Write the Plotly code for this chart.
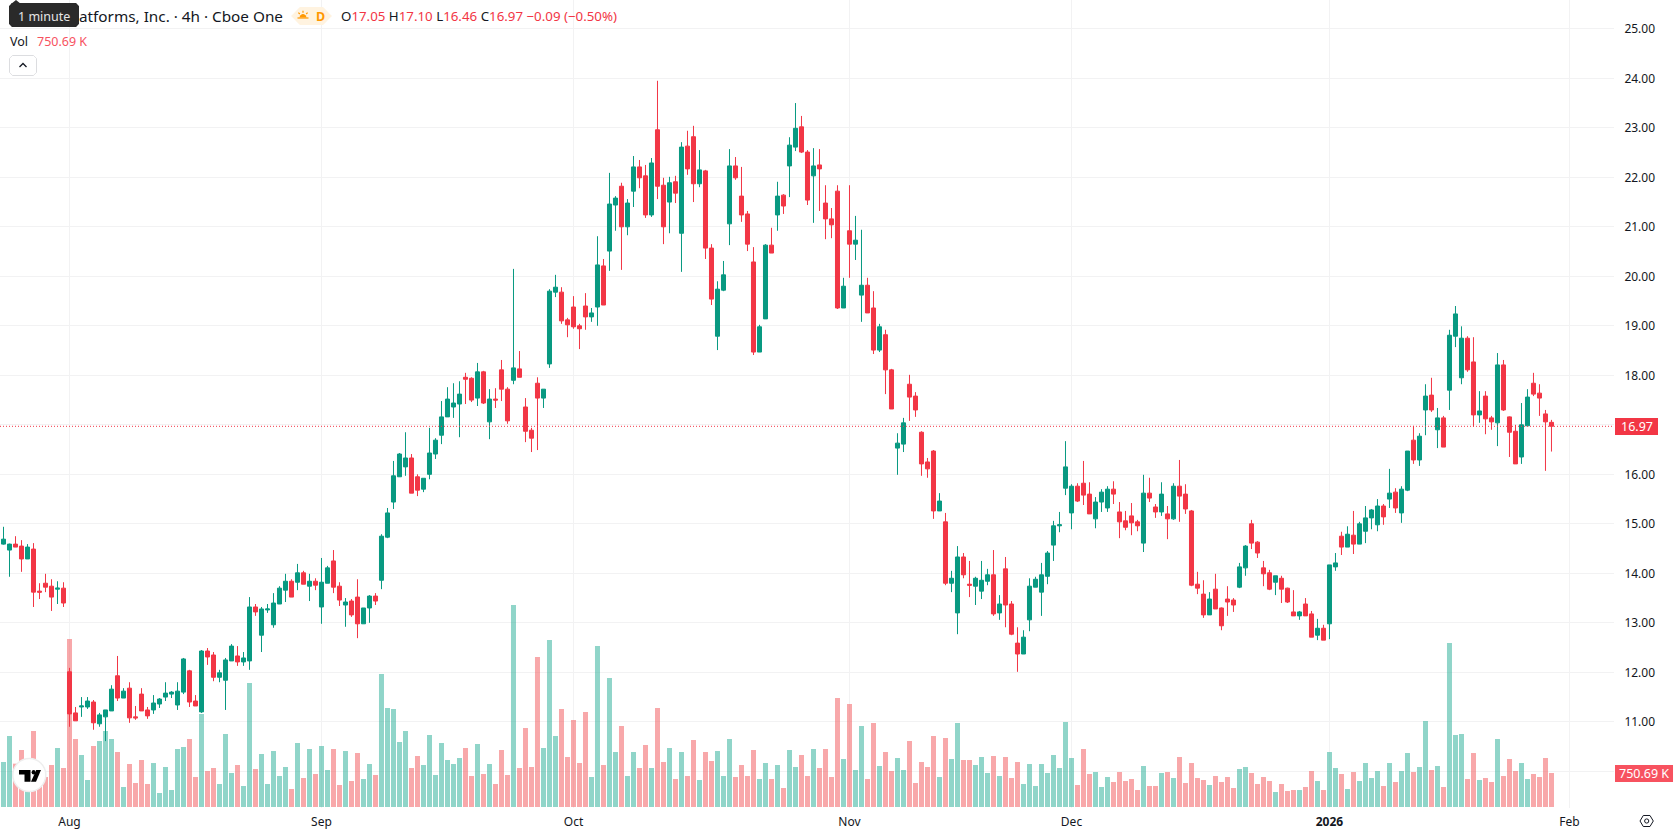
import plotly.graph_objects as go

# Price data, 4h bars
opens = [
    14.59,14.47,14.59,14.55,14.29,14.49,13.64,13.80,13.74,13.68,
    13.70,12.01,11.18,11.30,11.30,11.40,10.96,11.10,11.22,11.93,
    11.48,11.68,11.10,11.56,11.24,11.24,11.36,11.50,11.56,11.34,
    11.60,12.03,11.42,11.20,12.43,12.35,11.90,11.84,12.23,12.33,
    12.21,12.23,13.32,12.75,13.26,12.96,13.38,13.66,13.84,13.82,
    14.01,13.74,13.84,13.32,13.80,14.25,13.74,13.36,13.44,13.52,
    12.98,13.30,13.54,13.86,14.73,15.44,15.95,16.15,16.33,15.95,
    15.70,16.00,16.41,16.79,17.16,17.36,17.42,17.96,17.94,17.54,
    18.07,17.06,17.52,18.11,17.72,17.90,18.13,17.36,16.89,17.84,
    17.54,18.23,19.68,19.68,19.12,19.38,19.00,19.40,19.18,19.38,
    20.21,20.51,21.44,21.82,21.00,21.72,22.21,22.03,21.24,22.96,
    21.84,21.50,21.91,20.87,22.63,22.82,21.87,22.13,20.57,18.79,
    19.72,21.06,22.23,21.62,21.26,20.29,18.47,19.14,20.63,21.24,
    21.64,22.23,22.61,23.02,22.51,22.03,22.25,21.48,21.16,21.72,
    19.36,20.92,20.65,19.62,19.82,19.36,18.51,18.82,18.11,16.53,
    16.61,17.82,17.58,16.85,16.25,16.47,15.26,15.04,13.80,13.20,
    14.33,13.78,13.74,13.64,13.84,13.97,13.20,14.09,13.38,12.59,
    12.37,13.06,13.72,13.62,13.94,14.57,14.96,15.72,15.22,15.76,
    15.82,15.60,15.10,15.44,15.32,15.70,15.24,15.06,15.16,15.04,
    14.61,15.62,15.34,15.24,15.20,15.10,15.76,15.60,15.26,13.78,
    13.58,13.16,13.68,13.30,13.48,13.46,13.72,14.11,15.00,14.63,
    14.11,14.01,13.82,13.90,13.70,13.22,13.14,13.38,13.18,12.75,
    12.89,12.98,14.13,14.75,14.53,14.77,14.59,14.85,15.12,14.98,
    15.36,15.50,15.64,15.22,15.68,16.69,16.29,17.30,17.60,16.90,
    17.14,17.70,18.79,17.95,18.75,18.27,17.20,17.58,17.14,17.04,
    18.21,17.16,16.87,16.35,16.98,17.84,17.64,17.22,17.05,
]
highs = [
    14.94,14.60,14.75,14.67,14.59,14.61,13.80,13.99,13.88,13.84,
    13.82,12.09,11.30,11.50,11.50,11.44,11.18,11.24,11.74,12.33,
    11.68,11.80,11.32,11.68,11.30,11.54,11.48,11.80,11.62,11.80,
    12.29,12.05,11.54,12.45,12.49,12.41,12.05,12.29,12.57,12.53,
    12.41,13.52,13.38,13.32,13.38,13.60,13.74,13.99,13.88,14.19,
    14.05,13.99,13.90,14.31,14.15,14.47,13.82,13.50,13.48,13.88,
    13.30,13.56,13.60,14.79,15.32,16.27,16.43,16.85,16.41,16.00,
    15.92,16.94,16.73,17.48,17.76,17.84,17.88,18.05,17.96,18.25,
    18.09,17.72,17.74,18.31,17.76,20.15,18.49,17.54,16.94,17.96,
    17.72,19.74,20.03,19.78,19.16,19.60,19.04,19.66,19.36,20.81,
    20.35,22.09,21.62,21.89,21.56,22.43,22.35,22.25,22.39,23.95,
    21.99,22.01,22.03,22.71,22.94,23.04,22.55,22.15,20.65,19.90,
    20.31,22.57,22.41,22.21,21.32,20.59,19.02,20.65,20.98,21.91,
    21.66,22.81,23.50,23.24,22.55,22.59,22.57,21.84,21.38,21.84,
    19.97,21.84,21.22,20.94,19.97,19.70,19.04,18.92,18.13,16.83,
    17.14,18.01,17.66,16.87,16.33,16.49,15.62,15.22,14.05,14.55,
    14.41,14.25,13.93,14.25,14.09,14.47,13.56,14.33,13.44,12.91,
    12.85,13.90,13.93,14.21,14.45,15.06,15.24,16.67,15.80,15.82,
    16.27,15.84,15.54,15.70,15.76,15.86,15.44,15.26,15.42,15.08,
    15.99,15.93,15.40,15.84,15.36,15.82,16.29,15.80,15.28,14.03,
    13.86,13.62,13.99,13.31,13.74,13.50,14.21,14.57,15.08,14.65,
    14.25,14.07,13.95,13.95,13.71,13.66,13.24,13.50,13.24,13.08,
    12.96,14.17,14.41,14.84,14.95,15.26,15.04,15.36,15.30,15.50,
    15.40,16.11,15.72,15.76,16.47,16.98,16.83,17.82,17.95,17.34,
    17.18,18.92,19.40,18.99,18.79,18.77,17.68,17.68,17.18,18.45,
    18.31,17.17,17.00,17.44,17.72,18.05,17.82,17.30,17.10,
]
lows = [
    14.58,13.93,14.53,14.03,14.29,13.32,13.48,13.62,13.24,13.38,
    13.32,10.90,11.02,11.10,11.26,10.84,10.90,10.61,11.22,11.42,
    11.48,10.98,11.04,11.22,11.06,11.16,11.28,11.42,11.48,11.24,
    11.56,11.30,11.32,11.18,12.15,11.82,11.80,11.24,12.23,12.13,
    12.13,12.05,13.14,12.41,13.20,12.90,13.38,13.42,13.52,13.66,
    13.78,13.44,13.66,12.98,13.80,13.60,13.34,12.92,13.12,12.69,
    12.98,13.00,13.36,13.68,14.71,15.30,15.95,15.97,15.62,15.56,
    15.64,15.90,16.31,16.61,17.16,17.14,16.75,17.42,17.46,17.38,
    17.42,16.71,17.34,17.48,17.02,17.82,17.96,16.65,16.45,16.49,
    17.34,18.15,19.58,19.04,18.77,18.94,18.53,18.92,19.08,19.00,
    19.42,20.11,20.92,20.13,20.83,21.40,21.78,21.18,21.20,21.56,
    20.65,20.87,21.48,20.09,22.05,21.50,21.80,20.35,19.42,18.51,
    19.70,20.63,21.95,21.10,20.51,18.41,18.47,19.14,20.47,20.92,
    21.26,21.60,22.53,22.49,21.44,21.08,21.32,20.75,20.77,19.34,
    19.36,19.97,20.33,19.08,19.26,18.43,18.47,17.62,17.32,15.99,
    16.45,17.08,17.16,15.97,15.93,15.10,15.26,13.76,13.62,12.77,
    13.90,13.52,13.36,13.48,13.76,13.14,13.06,12.91,12.75,12.01,
    12.37,12.83,13.72,13.14,13.78,14.25,14.83,15.58,14.89,15.44,
    15.38,15.20,14.91,15.24,15.24,15.40,14.71,14.87,14.77,14.85,
    14.43,15.44,15.12,15.16,14.69,15.08,15.04,15.20,13.74,13.58,
    13.10,13.16,13.28,12.85,13.14,13.22,13.70,13.95,14.49,14.31,
    13.74,13.66,13.56,13.40,13.40,13.14,13.06,13.14,12.71,12.65,
    12.65,12.67,14.05,14.37,14.53,14.39,14.59,14.61,14.89,14.85,
    14.98,15.32,15.22,15.02,15.66,16.21,16.17,16.79,17.26,16.53,
    16.55,17.30,18.57,17.82,18.07,16.96,17.04,16.81,16.90,16.57,
    17.28,16.35,16.21,16.21,16.98,17.58,17.18,16.07,16.46,
]
closes = [
    14.69,14.59,14.53,14.29,14.53,13.62,13.62,13.72,13.52,13.70,
    13.40,11.16,11.02,11.32,11.42,10.98,11.14,11.24,11.66,11.48,
    11.62,11.08,11.08,11.22,11.12,11.38,11.46,11.58,11.60,11.62,
    12.27,11.40,11.32,12.43,12.31,11.90,11.99,12.25,12.53,12.21,
    12.29,13.32,13.22,13.28,13.28,13.40,13.70,13.84,13.52,14.01,
    13.78,13.84,13.76,13.82,14.11,13.72,13.46,13.42,13.16,12.98,
    13.30,13.54,13.44,14.75,15.22,15.97,16.41,16.33,15.62,15.68,
    15.92,16.43,16.69,17.16,17.52,17.44,17.62,17.92,17.50,18.07,
    17.44,17.52,17.50,17.72,17.08,18.15,17.96,16.87,16.73,17.54,
    17.72,19.70,19.78,19.10,19.02,18.98,18.94,19.18,19.26,20.23,
    19.42,21.46,21.58,21.00,21.48,22.21,21.99,21.24,22.29,21.82,
    21.00,21.89,21.68,22.61,22.17,21.87,22.15,20.57,19.54,19.74,
    20.03,22.23,21.99,21.24,20.65,18.47,18.98,20.63,20.47,21.62,
    21.42,22.65,22.99,22.51,21.54,22.23,22.17,21.16,21.04,19.36,
    19.80,20.65,20.73,19.82,19.26,18.51,18.98,18.11,17.32,16.63,
    17.04,17.56,17.30,16.21,16.11,15.26,15.46,13.80,13.90,14.33,
    13.97,13.76,13.90,13.86,13.97,13.18,13.38,13.36,12.77,12.37,
    12.71,13.74,13.88,13.97,14.41,14.96,14.98,16.15,15.76,15.46,
    15.58,15.20,15.44,15.64,15.70,15.60,15.04,14.93,15.02,14.96,
    15.62,15.52,15.24,15.60,15.10,15.76,15.56,15.30,13.76,13.70,
    13.16,13.48,13.28,12.94,13.42,13.36,14.13,14.55,14.61,14.41,
    13.99,13.68,13.95,13.68,13.42,13.14,13.22,13.14,12.71,12.89,
    12.65,14.17,14.21,14.53,14.79,14.59,15.00,15.12,15.28,15.36,
    15.14,15.62,15.32,15.70,16.47,16.29,16.77,17.58,17.30,17.14,
    16.55,18.81,19.24,18.75,18.11,17.20,17.28,17.12,17.06,18.21,
    17.30,16.85,16.21,17.00,17.56,17.62,17.54,17.06,16.97,
]
# Volume per bar, in thousands of shares
volumes_k = [
    994,1568,957,1259,589,1678,699,662,927,1303,
    861,3709,1501,1148,596,1347,1457,1678,1501,1214,
    442,949,530,1038,508,971,309,883,375,1281,
    1325,1501,662,2053,795,861,508,1612,751,927,
    464,2738,839,1170,508,1236,684,883,397,1413,
    640,1281,729,1347,817,1281,486,1236,574,1192,
    618,949,707,2937,2186,2164,1435,1678,861,1126,
    927,1590,707,1413,1038,949,1082,1303,684,1391,
    729,949,508,1259,707,4460,861,1744,883,3312,
    1303,3687,1568,2164,1104,1921,972,2098,662,3555,
    927,2848,1214,1788,684,1214,861,1369,861,2186,
    994,1303,618,1214,684,1479,596,1214,1016,1236,
    684,1501,662,927,684,1259,618,972,618,927,
    420,1259,883,1148,684,1281,861,1281,662,2407,
    1060,2274,817,1788,618,1855,905,1214,795,1082,
    817,1457,530,994,883,1568,662,1524,1060,1855,
    1038,1038,927,1104,751,1126,684,1104,640,994,
    508,949,464,949,751,1148,861,1877,1082,486,
    1281,729,773,442,662,552,773,574,618,375,
    905,464,464,751,773,640,1104,530,972,640,
    596,486,684,552,662,420,839,883,751,508,
    662,574,331,508,353,375,375,442,795,574,
    375,1214,861,729,397,773,574,972,640,795,
    464,972,552,795,1192,773,883,1899,817,905,
    442,3621,1590,1612,618,1192,596,640,552,1501,
    684,1060,795,972,618,729,662,1082,750.69,
]
month_bars = [11, 53, 95, 141, 178, 221, 261]
month_labels = ["Aug", "Sep", "Oct", "Nov", "Dec", "<b>2026</b>", "Feb"]
price_ticks = [10, 11, 12, 13, 14, 15, 16, 17, 18, 19, 20, 21, 22, 23, 24, 25]
# 10 and 17 sit behind the value tags on the scale, so they carry no text
price_tick_labels = ["", "11.00", "12.00", "13.00", "14.00", "15.00", "16.00", "",
                     "18.00", "19.00", "20.00", "21.00", "22.00", "23.00", "24.00", "25.00"]
change_text = "−0.09 (−0.50%)"
volume_text = "750.69 K"
instrument_text = "atforms, Inc. · 4h · Cboe One"

UP = "#089981"
DOWN = "#F23645"
VOL_UP = "rgba(34,171,148,0.5)"
VOL_DOWN = "rgba(242,82,85,0.5)"
INK = "#131722"
GRID = "#F2F2F3"
BADGE_ORANGE = "#FF9800"
FONT = "Noto Sans"

FIG_W, FIG_H = 1678, 835
PANE_W, PANE_H = 1614, 808
bars = list(range(len(closes)))


def px(x, y):
    """Screen pixel to paper coordinates, for the chart furniture."""
    return x / PANE_W, 1 - y / PANE_H


def path(points, close=True):
    parts = []
    for k, (x, y) in enumerate(points):
        u, v = px(x, y)
        parts.append(("M" if k == 0 else "L") + f"{u:.5f},{v:.5f}")
    return " ".join(parts) + (" Z" if close else "")


def rounded(x0, y0, x1, y1, r):
    steps = [(0, -1), (0.29, -0.71), (0.71, -0.29), (1, 0)]
    pts = []
    for cx, cy, a, b in [(x1 - r, y0 + r, 1, 1), (x1 - r, y1 - r, 1, -1),
                         (x0 + r, y1 - r, -1, -1), (x0 + r, y0 + r, -1, 1)]:
        seq = steps if a * b > 0 else [(s[1] * -1, s[0] * -1) for s in steps]
        for dx, dy in seq:
            pts.append((cx + a * dx * r, cy + b * dy * r))
    return path(pts)


def shape(d, fill=None, line=None, width=1):
    return dict(type="path", xref="paper", yref="paper", path=d, layer="above",
                fillcolor=fill or "rgba(0,0,0,0)",
                line=dict(color=line or "rgba(0,0,0,0)", width=width if line else 0))


def label(x, y, text, size=12, color=INK, anchor="left", family=FONT):
    u, v = px(x, y)
    return dict(xref="paper", yref="paper", x=u, y=v, text=text, showarrow=False,
                xanchor=anchor, yanchor="middle", xshift=0,
                font=dict(family=family, size=size, color=color), borderpad=0)


fig = go.Figure()
fig.add_trace(go.Bar(
    x=bars, y=volumes_k, yaxis="y", xaxis="x",
    marker=dict(color=[VOL_UP if c >= o else VOL_DOWN for o, c in zip(opens, closes)], line_width=0),
    hoverinfo="skip", showlegend=False,
))
fig.add_trace(go.Candlestick(
    x=bars, open=opens, high=highs, low=lows, close=closes, yaxis="y2", xaxis="x",
    increasing=dict(line=dict(color=UP, width=1), fillcolor=UP),
    decreasing=dict(line=dict(color=DOWN, width=1), fillcolor=DOWN),
    whiskerwidth=0, showlegend=False,
))

shapes = [
    # last price line
    dict(type="line", xref="paper", yref="y2", x0=0, x1=1, y0=closes[-1], y1=closes[-1],
         layer="above", line=dict(color=DOWN, width=1, dash="1px,2px")),
    # value tags on the scale
    shape(path([(1615, 418), (1658, 418), (1658, 435), (1615, 435)]), fill=DOWN),
    shape(path([(1615, 765), (1673, 765), (1673, 782), (1615, 782)]), fill="#F7525F"),
    # session badge with a small sunrise
    shape(rounded(291, 7, 332, 25, 9), fill="#FFF3E0"),
    shape(path([(299.4, 17.5), (300.2, 15.4), (301.8, 14.2), (303, 13.9), (304.2, 14.2),
                (305.8, 15.4), (306.6, 17.5)]), fill=BADGE_ORANGE),
    shape(path([(297.5, 18), (308.5, 18)], close=False), line=BADGE_ORANGE, width=1.2),
    shape(path([(303, 10.8), (303, 12.8)], close=False), line=BADGE_ORANGE, width=1.2),
    shape(path([(298.4, 12.6), (299.8, 14)], close=False), line=BADGE_ORANGE, width=1.2),
    shape(path([(307.6, 12.6), (306.2, 14)], close=False), line=BADGE_ORANGE, width=1.2),
    # collapse button with its chevron
    shape(rounded(9.5, 55.5, 36.5, 75.5, 3), fill="#FFFFFF", line="#DCDDE0"),
    shape(path([(19.5, 67), (23, 63.5), (26.5, 67)], close=False), line=INK, width=1.3),
    # tooltip box and its pointer
    shape(rounded(9, 3, 79, 27, 3), fill="#2A2A2A"),
    shape(path([(11, 4), (16, 0), (21, 4)]), fill="#2A2A2A"),
    # logo badge
    dict(type="circle", xref="paper", yref="paper", layer="above",
         x0=px(12.8, 0)[0], x1=px(45.8, 0)[0], y0=px(0, 758.5)[1], y1=px(0, 791.5)[1],
         fillcolor="#FFFFFF", line=dict(color="#EEEEEE", width=1.5)),
    shape(path([(19, 770), (30.5, 770), (30.5, 781.7), (24.5, 781.7), (24.5, 774.4), (19, 774.4)]), fill="#000000"),
    dict(type="circle", xref="paper", yref="paper", layer="above",
         x0=px(31.6, 0)[0], x1=px(35.6, 0)[0], y0=px(0, 770)[1], y1=px(0, 774.4)[1],
         fillcolor="#000000", line=dict(width=0)),
    shape(path([(36.2, 770), (41, 770), (36, 781.7), (31, 781.7)]), fill="#000000"),
    # settings hexagon on the time scale
    shape(path([(1640, 821), (1643.3, 815.5), (1650, 815.5), (1653.3, 821), (1650, 826.5), (1643.3, 826.5)]),
          line=INK, width=1),
    dict(type="circle", xref="paper", yref="paper", layer="above",
         x0=px(1644.6, 0)[0], x1=px(1648.8, 0)[0], y0=px(0, 818.9)[1], y1=px(0, 823.1)[1],
         line=dict(color=INK, width=1)),
]

ohlc_text = " ".join(
    f'<span style="color:{INK}">{k}</span><span style="color:{DOWN}">{v:.2f}</span>'
    for k, v in zip("OHLC", (opens[-1], highs[-1], lows[-1], closes[-1]))
) + f' <span style="color:{DOWN}">{change_text}</span>'

annotations = [
    label(77.5, 16, instrument_text, size=15.3),
    label(9, 41, "Vol", size=12.5),
    label(36, 41, volume_text, size=12.5, color="#F7525F"),
    label(320, 16, "<b>D</b>", size=12.5, color=BADGE_ORANGE, anchor="center"),
    label(340, 16, ohlc_text, size=13.3),
    label(44, 16, "1 minute", size=12.5, color="#E6E6E6", anchor="center"),
    label(1636.5, 426.5, f"{closes[-1]:.2f}", size=12.5, color="#FFFFFF", anchor="center"),
    label(1644, 773.5, volume_text, size=12.5, color="#FFFFFF", anchor="center"),
]

fig.update_layout(
    width=FIG_W, height=FIG_H, autosize=False,
    margin=dict(l=0, r=FIG_W - PANE_W, t=0, b=FIG_H - PANE_H, pad=0),
    paper_bgcolor="#FFFFFF", plot_bgcolor="#FFFFFF",
    bargap=1 / 6, boxmode="overlay", boxgap=0.33, boxgroupgap=0,
    dragmode=False, showlegend=False,
    font=dict(family=FONT, size=12, color=INK),
    xaxis=dict(
        range=[-0.583, 268.42], tickmode="array", tickvals=month_bars, ticktext=month_labels,
        showgrid=True, gridcolor=GRID, gridwidth=1, zeroline=False, showline=False,
        ticks="outside", ticklen=3, tickcolor="rgba(0,0,0,0)", rangeslider=dict(visible=False),
        tickfont=dict(family=FONT, size=12, color=INK),
    ),
    yaxis=dict(
        range=[-22, 17818], showgrid=False, zeroline=False, showticklabels=False,
        ticks="", showline=False,
    ),
    yaxis2=dict(
        overlaying="y", side="right", range=[9.259, 25.582],
        tickmode="array", tickvals=price_ticks, ticktext=price_tick_labels,
        showgrid=True, gridcolor=GRID, gridwidth=1, zeroline=False, showline=False,
        ticks="outside", ticklen=7, tickcolor="rgba(0,0,0,0)",
        tickfont=dict(family=FONT, size=12, color=INK),
    ),
    shapes=shapes, annotations=annotations,
)

fig.write_html("out.html", config=dict(displayModeBar=False))
